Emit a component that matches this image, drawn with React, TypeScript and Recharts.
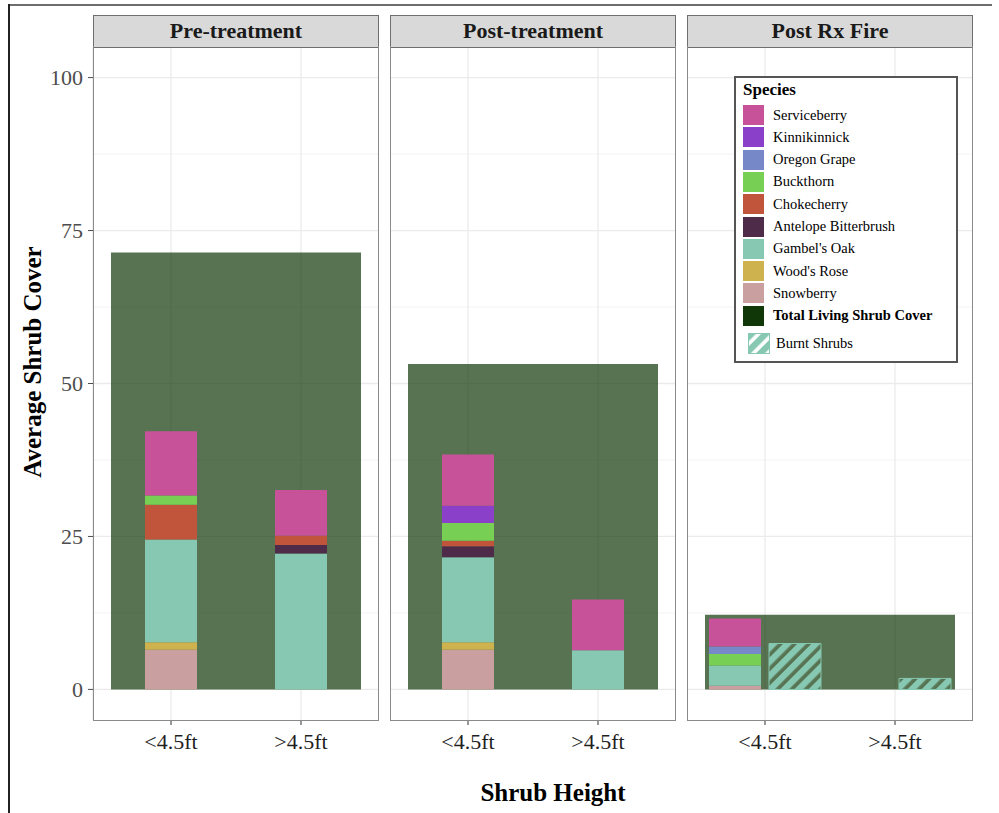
import React from "react"
import { BarChart, Bar, XAxis, YAxis, CartesianGrid } from "recharts"

const heights = ["<4.5ft", ">4.5ft"]
const facets = ["Pre-treatment", "Post-treatment", "Post Rx Fire"]

// stacking order, bottom first
const species = [
  "Snowberry",
  "Wood's Rose",
  "Gambel's Oak",
  "Antelope Bitterbrush",
  "Chokecherry",
  "Buckthorn",
  "Oregon Grape",
  "Kinnikinnick",
  "Serviceberry",
]
const speciesColors = ["#C9A09F", "#CDB24D", "#86C8B2", "#4E2B48", "#C1553B", "#77CF54", "#7688C7", "#8A40C8", "#C8529A"]

// average cover per species (same order as species)
const preLow = [6.5, 1.2, 16.8, 0, 5.7, 1.5, 0, 0, 10.5]
const preHigh = [0, 0, 22.2, 1.4, 1.5, 0, 0, 0, 7.5]
const postLow = [6.5, 1.2, 13.9, 1.8, 0.9, 2.9, 0, 2.8, 8.4]
const postHigh = [0, 0, 6.4, 0, 0, 0, 0, 0, 8.3]
const fireLow = [0.6, 0, 3.3, 0, 0, 1.9, 1.2, 0, 4.6]
const fireHigh = [0, 0, 0, 0, 0, 0, 0, 0, 0]

const totalCover = [71.4, 53.2, 12.2]
const burntLow = [0, 0, 7.5]
const burntHigh = [0, 0, 1.8]

const yTicks = [0, 25, 50, 75, 100]
const yMinor = [12.5, 37.5, 62.5, 87.5]

const speciesByFacet = [
  [preLow, preHigh],
  [postLow, postHigh],
  [fireLow, fireHigh],
]

const panelLeft = [93, 390, 687]
const PANEL_W = 286
const PANEL_TOP = 47
const PANEL_H = 673
const TOTAL_COLOR = "#103708"
const BURNT_COLOR = "#86C8B2"
const FONT = "'Liberation Serif', 'DejaVu Serif', serif"

function rowsFor(f: number) {
  return heights.map((h, i) => {
    const row: Record<string, any> = {
      height: h,
      facet: facets[f],
      total: i === 0 ? totalCover[f] : null,
      burnt: i === 0 ? burntLow[f] : burntHigh[f],
    }
    species.forEach((_, k) => {
      row[`sp${k}`] = speciesByFacet[f][i][k]
    })
    return row
  })
}

function Panel({ f }: { f: number }) {
  const first = f === 0
  const axisW = first ? 84 : 0
  return (
    <div style={{ position: "absolute", left: panelLeft[f] - axisW, top: PANEL_TOP }}>
      <BarChart
        width={PANEL_W + axisW}
        height={PANEL_H + 50}
        data={rowsFor(f)}
        margin={{ top: 0, right: 0, bottom: 0, left: 0 }}
        barGap={8}
      >
        <CartesianGrid vertical={false} horizontalValues={yMinor} stroke="#F3F3F3" />
        <CartesianGrid horizontalValues={yTicks} stroke="#EBEBEB" strokeWidth={1.3} />
        <XAxis
          dataKey="height"
          padding={{ left: 13, right: 13 }}
          height={50}
          axisLine={false}
          tickSize={5}
          tickMargin={8}
          tickLine={{ stroke: "#333" }}
          tick={{ fontSize: 22, fill: "#1F1F1F", fontFamily: FONT }}
          interval={0}
        />
        <XAxis xAxisId="total" dataKey="facet" hide allowDuplicatedCategory={false} />
        <YAxis
          type="number"
          domain={[-5, 105]}
          ticks={yTicks}
          interval={0}
          hide={!first}
          width={axisW}
          axisLine={false}
          tickSize={5}
          tickMargin={5}
          tickLine={{ stroke: "#4D4D4D" }}
          tick={{ fontSize: 22, fill: "#4D4D4D", fontFamily: FONT }}
        />
        <Bar
          xAxisId="total"
          dataKey="total"
          fill={TOTAL_COLOR}
          fillOpacity={0.7}
          barSize={250}
          isAnimationActive={false}
        />
        {species.map((s, k) => (
          <Bar
            key={s}
            dataKey={`sp${k}`}
            stackId="sp"
            fill={speciesColors[k]}
            barSize={52}
            isAnimationActive={false}
          />
        ))}
        {f === 2 && (
          <Bar
            dataKey="burnt"
            fill="url(#burntHatch)"
            stroke={BURNT_COLOR}
            strokeWidth={1}
            barSize={52}
            isAnimationActive={false}
          />
        )}
      </BarChart>
    </div>
  )
}

const legendItems = [...species].reverse()
const legendColors = [...speciesColors].reverse()

function Legend() {
  return (
    <div
      style={{
        position: "absolute",
        left: 734,
        top: 76,
        width: 224,
        height: 287,
        boxSizing: "border-box",
        border: "2px solid #555",
        background: "#fff",
        fontFamily: FONT,
        color: "#000",
      }}
    >
      <div style={{ position: "absolute", left: 7, top: 2, fontSize: 17, fontWeight: "bold" }}>Species</div>
      {legendItems.map((name, i) => (
        <div key={name} style={{ position: "absolute", left: 7, top: 27 + i * 22.3, height: 20, display: "flex", alignItems: "center" }}>
          <div style={{ width: 21, height: 20, background: legendColors[i] }} />
          <span style={{ marginLeft: 9, fontSize: 14.5 }}>{name}</span>
        </div>
      ))}
      <div style={{ position: "absolute", left: 7, top: 27 + 9 * 22.3, height: 20, display: "flex", alignItems: "center" }}>
        <div style={{ width: 21, height: 20, background: TOTAL_COLOR }} />
        <span style={{ marginLeft: 9, fontSize: 14.5, fontWeight: "bold" }}>Total Living Shrub Cover</span>
      </div>
      <div style={{ position: "absolute", left: 12, top: 254, height: 22, display: "flex", alignItems: "center" }}>
        <svg width={22} height={21}>
          <rect x={0} y={0} width={22} height={21} fill="#fff" />
          <rect x={0.5} y={0.5} width={21} height={20} fill="url(#burntHatch)" stroke={BURNT_COLOR} />
        </svg>
        <span style={{ marginLeft: 6, fontSize: 14.5 }}>Burnt Shrubs</span>
      </div>
    </div>
  )
}

export default function App() {
  return (
    <div
      style={{
        position: "absolute",
        left: 0,
        top: 0,
        width: 999,
        height: 813,
        background: "#fff",
        fontFamily: FONT,
        overflow: "hidden",
      }}
    >
      <svg width={0} height={0} style={{ position: "absolute" }}>
        <defs>
          <pattern id="burntHatch" patternUnits="userSpaceOnUse" width={10} height={10} patternTransform="rotate(45)">
            <rect x={0} y={0} width={6.3} height={10} fill={BURNT_COLOR} />
          </pattern>
        </defs>
      </svg>

      {/* outer frame */}
      <div style={{ position: "absolute", left: 8, top: 4, width: 984, height: 2, background: "#6E6E6E" }} />
      <div style={{ position: "absolute", left: 8, top: 4, width: 2, height: 809, background: "#222" }} />

      {facets.map((name, f) => (
        <React.Fragment key={name}>
          <Panel f={f} />
          <div
            style={{
              position: "absolute",
              left: panelLeft[f],
              top: 15,
              width: PANEL_W,
              height: 33,
              boxSizing: "border-box",
              border: "1.5px solid #6F6F6F",
              background: "#D9D9D9",
              textAlign: "center",
              fontWeight: "bold",
              fontSize: 22,
              lineHeight: "30px",
              color: "#1A1A1A",
            }}
          >
            {name}
          </div>
          <div
            style={{
              position: "absolute",
              left: panelLeft[f],
              top: 46,
              width: PANEL_W,
              height: 675,
              boxSizing: "border-box",
              border: "1.5px solid #8A8A8A",
              borderTop: "none",
              pointerEvents: "none",
            }}
          />
        </React.Fragment>
      ))}

      <Legend />

      <div
        style={{
          position: "absolute",
          left: 33,
          top: 362,
          transform: "translate(-50%, -50%) rotate(-90deg)",
          whiteSpace: "nowrap",
          fontWeight: "bold",
          fontSize: 25,
          color: "#000",
        }}
      >
        Average Shrub Cover
      </div>
      <div
        style={{
          position: "absolute",
          left: 553,
          top: 793,
          transform: "translate(-50%, -50%)",
          whiteSpace: "nowrap",
          fontWeight: "bold",
          fontSize: 25,
          color: "#000",
        }}
      >
        Shrub Height
      </div>
    </div>
  )
}
